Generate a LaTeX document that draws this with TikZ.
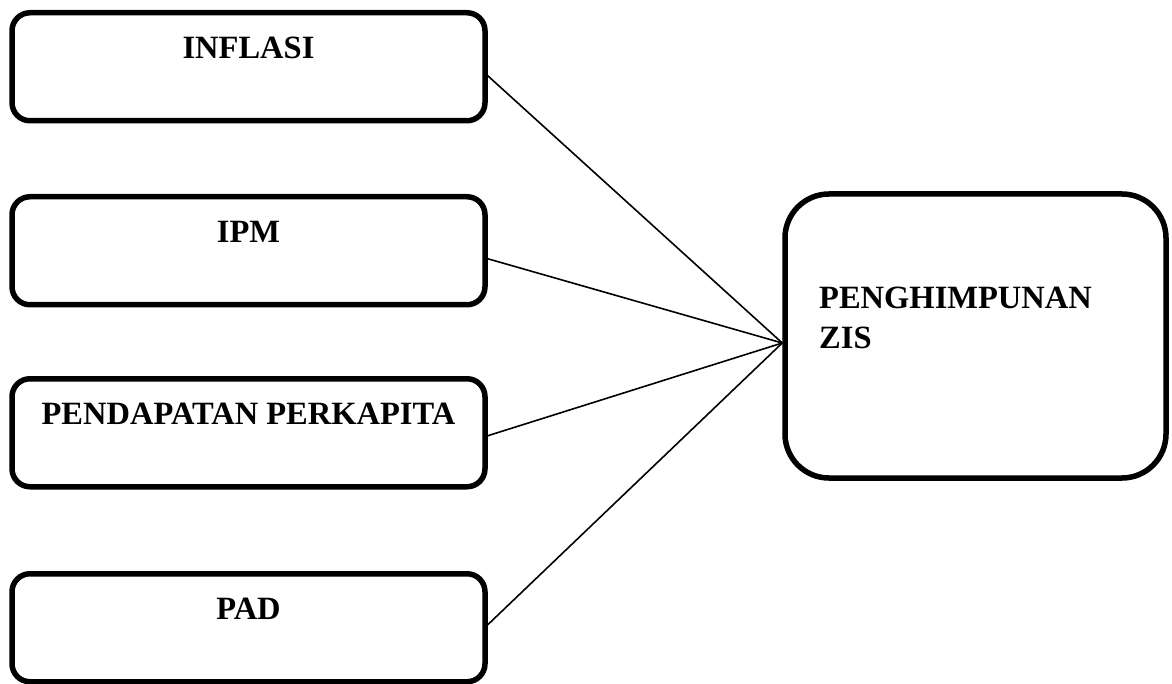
\documentclass[tikz,border=0pt]{standalone}
\usepackage{fontspec}
\setmainfont{Liberation Serif}
\tikzset{
  varbox/.style={draw, line width=5.5pt, rounded corners=18pt, minimum width=473pt,
    inner xsep=0pt, inner ysep=0pt, text height=46pt, text depth=62pt,
    font=\fontsize{32.5}{38}\selectfont\bfseries},
  zisbox/.style={draw, line width=5.5pt, rounded corners=44pt, minimum width=381pt,
    minimum height=284pt},
  link/.style={line width=1.6pt}
}
\begin{document}
\begin{tikzpicture}[x=1pt,y=-1pt]
  \useasboundingbox (0,0) rectangle (1172,684);
  % variabel bebas
  \node[varbox,anchor=north] (inf) at (248.5,10) {INFLASI};
  \node[varbox,anchor=north] (ipm) at (248.5,194) {IPM};
  \node[varbox,anchor=north] (pdp) at (248.5,376) {PENDAPATAN PERKAPITA};
  \node[varbox,anchor=north] (pad) at (248.5,571) {PAD};
  % variabel terikat
  \node[zisbox] (zis) at (975.5,336) {};
  \node[anchor=north west,inner sep=0pt,align=left,
    font=\fontsize{32.5}{40}\selectfont\bfseries] (zislbl) at (819,287) {PENGHIMPUNAN\\ZIS};
  \coordinate (meet) at ([yshift=-7pt]zis.west);
  \draw[link] ([yshift=-9pt]inf.east) -- (meet);
  \draw[link] ([yshift=-8pt]ipm.east) -- (meet);
  \draw[link] ([yshift=-3pt]pdp.east) -- (meet);
  \draw[link] ([yshift=3pt]pad.east) -- (meet);
\end{tikzpicture}
\end{document}
